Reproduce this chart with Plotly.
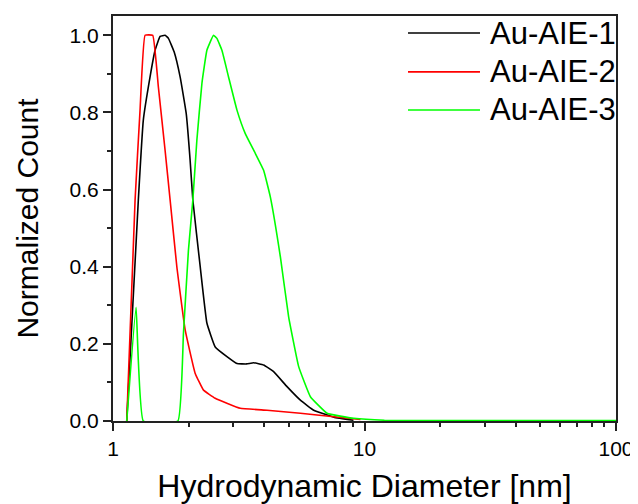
import plotly.graph_objects as go

names = ["Au-AIE-1", "Au-AIE-2", "Au-AIE-3"]
colors = ["#000000", "#FF0000", "#00FF00"]

x1 = [1.134, 1.261, 1.320, 1.404, 1.470, 1.539, 1.611, 1.661, 1.750, 1.849, 1.954, 2.026, 2.077,
      2.222, 2.362, 2.549, 2.838, 3.111, 3.40, 3.622, 3.971, 4.352, 4.920, 5.559, 6.281, 7.547, 9.04]
y1 = [0.0, 0.573, 0.780, 0.892, 0.961, 0.997, 1.0, 0.992, 0.957, 0.892, 0.798, 0.676, 0.573,
      0.400, 0.254, 0.192, 0.167, 0.149, 0.148, 0.151, 0.145, 0.128, 0.089, 0.054, 0.028, 0.010, 0.002]

x2 = [1.134, 1.224, 1.281, 1.341, 1.439, 1.515, 1.611, 1.687, 1.794, 1.936, 2.121, 2.290, 2.549,
      3.206, 4.097, 5.559, 7.547, 9.64]
y2 = [0.0, 0.573, 0.806, 1.0, 1.0, 0.866, 0.702, 0.573, 0.400, 0.236, 0.124, 0.080, 0.059,
      0.033, 0.028, 0.020, 0.011, 0.004]

x3 = [1.134, 1.235, 1.320, 1.811, 1.906, 1.995, 2.077, 2.155, 2.257, 2.362, 2.510, 2.589, 2.711,
      2.880, 3.111, 3.357, 3.679, 3.971, 4.222, 4.628, 4.993, 5.474, 6.094, 7.102, 9.06, 12.0, 20.0, 100.0]
y3 = [0.0, 0.295, 0.0, 0.0, 0.227, 0.443, 0.573, 0.728, 0.875, 0.961, 1.0, 0.992, 0.961,
      0.892, 0.806, 0.745, 0.694, 0.650, 0.581, 0.426, 0.270, 0.141, 0.063, 0.020, 0.007, 0.002, 0.001, 0.001]

xs = [x1, x2, x3]
ys = [y1, y2, y3]

x_ticks = [1, 10, 100]
y_ticks = [0.0, 0.2, 0.4, 0.6, 0.8, 1.0]

FONT = "Liberation Sans, Arial, sans-serif"

fig = go.Figure()
for n, c, xv, yv in zip(names, colors, xs, ys):
    fig.add_trace(go.Scatter(x=xv, y=yv, mode="lines", name=n, line_shape="spline",
                             line=dict(color=c, width=1.6, smoothing=0.3), showlegend=False))

# legend drawn in paper coordinates
leg_y = [0.958, 0.862, 0.768]
for n, c, ly in zip(names, colors, leg_y):
    fig.add_shape(type="line", xref="paper", yref="paper", x0=0.5865, x1=0.7296, y0=ly, y1=ly,
                  line=dict(color=c, width=1.6))
    fig.add_annotation(xref="paper", yref="paper", x=0.7455, y=ly, text=n, showarrow=False,
                       xanchor="left", yanchor="middle", font=dict(size=31, color="black", family=FONT))

axis_common = dict(showline=True, linecolor="#222222", linewidth=2, mirror=True,
                   ticks="outside", tickcolor="#222222", tickwidth=1.5, ticklen=8,
                   showgrid=False, zeroline=False,
                   tickfont=dict(size=21, color="black", family=FONT))

fig.update_xaxes(type="log", range=[0, 2], tickvals=x_ticks, ticktext=[str(v) for v in x_ticks],
                 minor=dict(ticks="outside", ticklen=4, tickwidth=1.5, tickcolor="#222222",
                            dtick="D1", showgrid=False),
                 title=dict(text="Hydrodynamic Diameter [nm]", font=dict(size=32, color="black", family=FONT),
                            standoff=22),
                 **axis_common)
fig.update_yaxes(range=[0, 1.05], tickvals=y_ticks, ticktext=[f"{v:.1f}" for v in y_ticks],
                 minor=dict(ticks="outside", ticklen=4, tickwidth=1.5, tickcolor="#222222",
                            dtick=0.1, showgrid=False),
                 title=dict(text="Normalized Count", font=dict(size=30, color="black", family=FONT),
                            standoff=22),
                 **axis_common)

fig.update_layout(width=630, height=496, margin=dict(l=105, r=22, t=8, b=83, autoexpand=False),
                  plot_bgcolor="white", paper_bgcolor="white",
                  font=dict(family=FONT, color="black"))

fig.write_html("out.html")
